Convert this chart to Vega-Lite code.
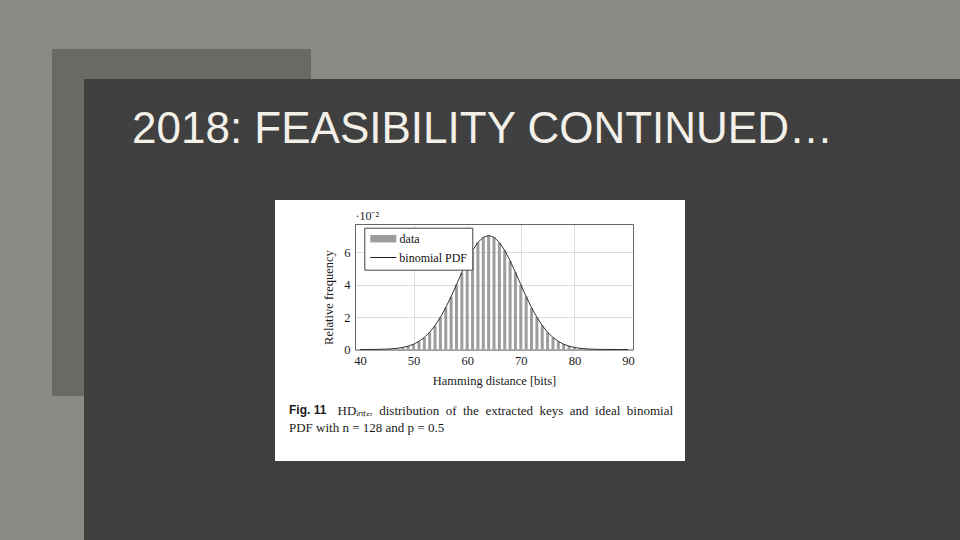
{
  "$schema": "https://vega.github.io/schema/vega-lite/v6.json",
  "background": "#8b8b86",
  "padding": {"left": 52, "top": 49, "right": 0, "bottom": 0},
  "spacing": 0,
  "config": {
    "view": {"stroke": null},
    "concat": {"spacing": 0},
    "font": "Liberation Sans",
    "axis": {
      "domainColor": "#555555",
      "domainWidth": 0.9,
      "gridColor": "#cdcdcd",
      "gridWidth": 0.7,
      "ticks": false,
      "labelFont": "Liberation Serif",
      "titleFont": "Liberation Serif",
      "labelFontSize": 12.5,
      "titleFontSize": 12.5,
      "titleFontWeight": "normal",
      "labelColor": "#1a1a1a",
      "titleColor": "#1a1a1a"
    }
  },
  "datasets": {
    "hist": [
      {"k": 40, "data": 0, "pdf": 0.0009},
      {"k": 41, "data": 0, "pdf": 0.0018},
      {"k": 42, "data": 0.004, "pdf": 0.0036},
      {"k": 43, "data": 0.006, "pdf": 0.0072},
      {"k": 44, "data": 0.014, "pdf": 0.0136},
      {"k": 45, "data": 0.026, "pdf": 0.025},
      {"k": 46, "data": 0.045, "pdf": 0.0446},
      {"k": 47, "data": 0.078, "pdf": 0.077},
      {"k": 48, "data": 0.13, "pdf": 0.129},
      {"k": 49, "data": 0.21, "pdf": 0.209},
      {"k": 50, "data": 0.33, "pdf": 0.329},
      {"k": 51, "data": 0.5, "pdf": 0.502},
      {"k": 52, "data": 0.74, "pdf": 0.742},
      {"k": 53, "data": 1.06, "pdf": 1.06},
      {"k": 54, "data": 1.47, "pdf": 1.48},
      {"k": 55, "data": 1.99, "pdf": 1.99},
      {"k": 56, "data": 2.6, "pdf": 2.59},
      {"k": 57, "data": 3.26, "pdf": 3.27},
      {"k": 58, "data": 4.02, "pdf": 4.01},
      {"k": 59, "data": 4.75, "pdf": 4.76},
      {"k": 60, "data": 5.49, "pdf": 5.48},
      {"k": 61, "data": 6.11, "pdf": 6.12},
      {"k": 62, "data": 6.62, "pdf": 6.61},
      {"k": 63, "data": 6.92, "pdf": 6.93},
      {"k": 64, "data": 7.05, "pdf": 7.04},
      {"k": 65, "data": 6.93, "pdf": 6.93},
      {"k": 66, "data": 6.6, "pdf": 6.61},
      {"k": 67, "data": 6.13, "pdf": 6.12},
      {"k": 68, "data": 5.47, "pdf": 5.48},
      {"k": 69, "data": 4.77, "pdf": 4.76},
      {"k": 70, "data": 4.0, "pdf": 4.01},
      {"k": 71, "data": 3.28, "pdf": 3.27},
      {"k": 72, "data": 2.58, "pdf": 2.59},
      {"k": 73, "data": 1.99, "pdf": 1.99},
      {"k": 74, "data": 1.49, "pdf": 1.48},
      {"k": 75, "data": 1.06, "pdf": 1.06},
      {"k": 76, "data": 0.74, "pdf": 0.742},
      {"k": 77, "data": 0.5, "pdf": 0.502},
      {"k": 78, "data": 0.33, "pdf": 0.329},
      {"k": 79, "data": 0.21, "pdf": 0.209},
      {"k": 80, "data": 0.13, "pdf": 0.129},
      {"k": 81, "data": 0.077, "pdf": 0.077},
      {"k": 82, "data": 0.045, "pdf": 0.0446},
      {"k": 83, "data": 0.025, "pdf": 0.025},
      {"k": 84, "data": 0.013, "pdf": 0.0136},
      {"k": 85, "data": 0.007, "pdf": 0.0072},
      {"k": 86, "data": 0.004, "pdf": 0.0036},
      {"k": 87, "data": 0.002, "pdf": 0.0018},
      {"k": 88, "data": 0.001, "pdf": 0.0009},
      {"k": 89, "data": 0, "pdf": 0.0004},
      {"k": 90, "data": 0, "pdf": 0.0002}
    ],
    "slideTitle": [{"t": "2018: FEASIBILITY CONTINUED…"}]
  },
  "hconcat": [
    {"width": 32, "height": 347, "view": {"fill": "#6a6a65", "stroke": null}, "data": {"values": []}, "mark": "point"},
    {
      "spacing": 0,
      "vconcat": [
        {"width": 227, "height": 30, "view": {"fill": "#6a6a65", "stroke": null}, "data": {"values": []}, "mark": "point"},
        {
          "spacing": 0,
          "vconcat": [
            {
              "spacing": 0,
              "bounds": "flush",
              "hconcat": [
                {"width": 51, "height": 102, "view": {"fill": "#404040", "stroke": null}, "data": {"values": []}, "mark": "point"},
                {
                  "width": 695,
                  "height": 102,
                  "view": {"fill": "#404040", "stroke": null},
                  "data": {"name": "slideTitle"},
                  "mark": {"type": "text", "font": "Liberation Sans", "fontSize": 44, "color": "#f3f0e9", "baseline": "middle", "align": "center"},
                  "encoding": {"text": {"field": "t"}}
                },
                {"width": 130, "height": 102, "view": {"fill": "#404040", "stroke": null}, "data": {"values": []}, "mark": "point"}
              ]
            },
            {"width": 876, "height": 19, "view": {"fill": "#404040", "stroke": null}, "data": {"values": []}, "mark": "point"},
            {
              "spacing": 0,
              "bounds": "flush",
              "hconcat": [
                {"width": 191, "height": 261, "view": {"fill": "#404040", "stroke": null}, "data": {"values": []}, "mark": "point"},
                {
                  "width": 410,
                  "height": 261,
                  "view": {"fill": "#ffffff", "stroke": null},
                  "data": {"name": "hist"},
                  "title": {
                    "text": "Fig. 11",
                    "subtitle": "PDF with n = 128 and p = 0.5",
                    "orient": "bottom",
                    "anchor": "start",
                    "frame": "group",
                    "offset": -56,
                    "dx": 14,
                    "font": "Liberation Sans",
                    "fontSize": 12,
                    "fontWeight": "bold",
                    "color": "#1a1a1a",
                    "subtitleFont": "Liberation Serif",
                    "subtitleFontSize": 13,
                    "subtitleColor": "#1a1a1a",
                    "subtitlePadding": 4.5
                  },
                  "layer": [
                    {
                      "mark": {"type": "bar", "width": 3},
                      "encoding": {
                        "x": {
                          "field": "k", "type": "quantitative",
                          "scale": {"domain": [40, 90], "range": [80, 358], "nice": false, "zero": false},
                          "axis": {"orient": "bottom", "offset": -111.5, "values": [40, 50, 60, 70, 80, 90], "grid": false, "labelFlush": false, "labelOverlap": false, "labelPadding": 5, "title": "Hamming distance [bits]", "titlePadding": 7}
                        },
                        "y": {
                          "field": "data", "type": "quantitative",
                          "scale": {"domain": [0, 7.75], "range": [149.5, 24], "nice": false},
                          "axis": {"orient": "left", "offset": -80, "values": [0, 2, 4, 6], "grid": true, "labelPadding": 5, "title": "Relative frequency", "titlePadding": 8, "titleY": 97}
                        },
                        "fill": {
                          "datum": "data",
                          "scale": {"domain": ["data"], "range": ["#9d9d9d"]},
                          "legend": {
                            "orient": "none",
                            "legendX": 312.3,
                            "legendY": 178.7,
                            "title": "\u200b\u00a0\u00a0\u00a0\u00a0\u00a0\u00a0\u00a0\u00a0\u00a0\u00a0binomial PDF",
                            "titleColor": "#111111",
                            "titleFont": "Liberation Serif",
                            "titleFontWeight": "normal",
                            "titleOrient": "bottom",
                            "titleFontSize": 12,
                            "titlePadding": 8.5,
                            "fillColor": "#ffffff",
                            "strokeColor": "#444444",
                            "padding": 5,
                            "labelFont": "Liberation Serif",
                            "labelFontSize": 12,
                            "labelColor": "#111111",
                            "symbolType": "M-1,-0.74H4.2V0.74H-1Z",
                            "symbolSize": 100,
                            "symbolStrokeWidth": 0,
                            "labelOffset": 18.3,
                            "zindex": 1
                          }
                        }
                      }
                    },
                    {
                      "mark": {"type": "line", "strokeWidth": 0.9},
                      "encoding": {
                        "x": {"field": "k", "type": "quantitative", "axis": {"orient": "top", "offset": -24, "values": [50, 60, 70, 80], "labels": false, "grid": true, "title": "·10⁻²", "titleAnchor": "start", "titlePadding": 2, "titleFontSize": 12}},
                        "y": {
                          "field": "pdf", "type": "quantitative",
                          "axis": {
                            "orient": "right", "offset": -52, "labels": false, "grid": false,
                            "title": "HDᵢₙₜₑᵣ\u00a0 distribution\u00a0 of\u00a0 the\u00a0 extracted\u00a0 keys\u00a0 and\u00a0 ideal\u00a0 binomial",
                            "titleAngle": 0,
                            "titleX": -296,
                            "titleY": 210.5,
                            "titleAlign": "left",
                            "titleBaseline": "middle",
                            "titleFontSize": 13,
                            "titleLimit": 1000
                          }
                        },
                        "stroke": {
                          "datum": "binomial PDF",
                          "scale": {"domain": ["binomial PDF"], "range": ["#1e1e1e"]},
                          "legend": {
                            "orient": "none",
                            "legendX": 312.3,
                            "legendY": 197.5,
                            "title": null,
                            "padding": 5,
                            "labelExpr": "''",
                            "labelFont": "Liberation Serif",
                            "labelFontSize": 12,
                            "symbolType": "M-1,0H4.2",
                            "symbolSize": 100,
                            "symbolStrokeWidth": 1,
                            "labelOffset": 18.3,
                            "zindex": 2
                          }
                        }
                      }
                    }
                  ],
                  "resolve": {"axis": {"x": "independent", "y": "independent"}}
                },
                {"width": 275, "height": 261, "view": {"fill": "#404040", "stroke": null}, "data": {"values": []}, "mark": "point"}
              ]
            },
            {"width": 876, "height": 79, "view": {"fill": "#404040", "stroke": null}, "data": {"values": []}, "mark": "point"}
          ]
        }
      ]
    }
  ]
}
